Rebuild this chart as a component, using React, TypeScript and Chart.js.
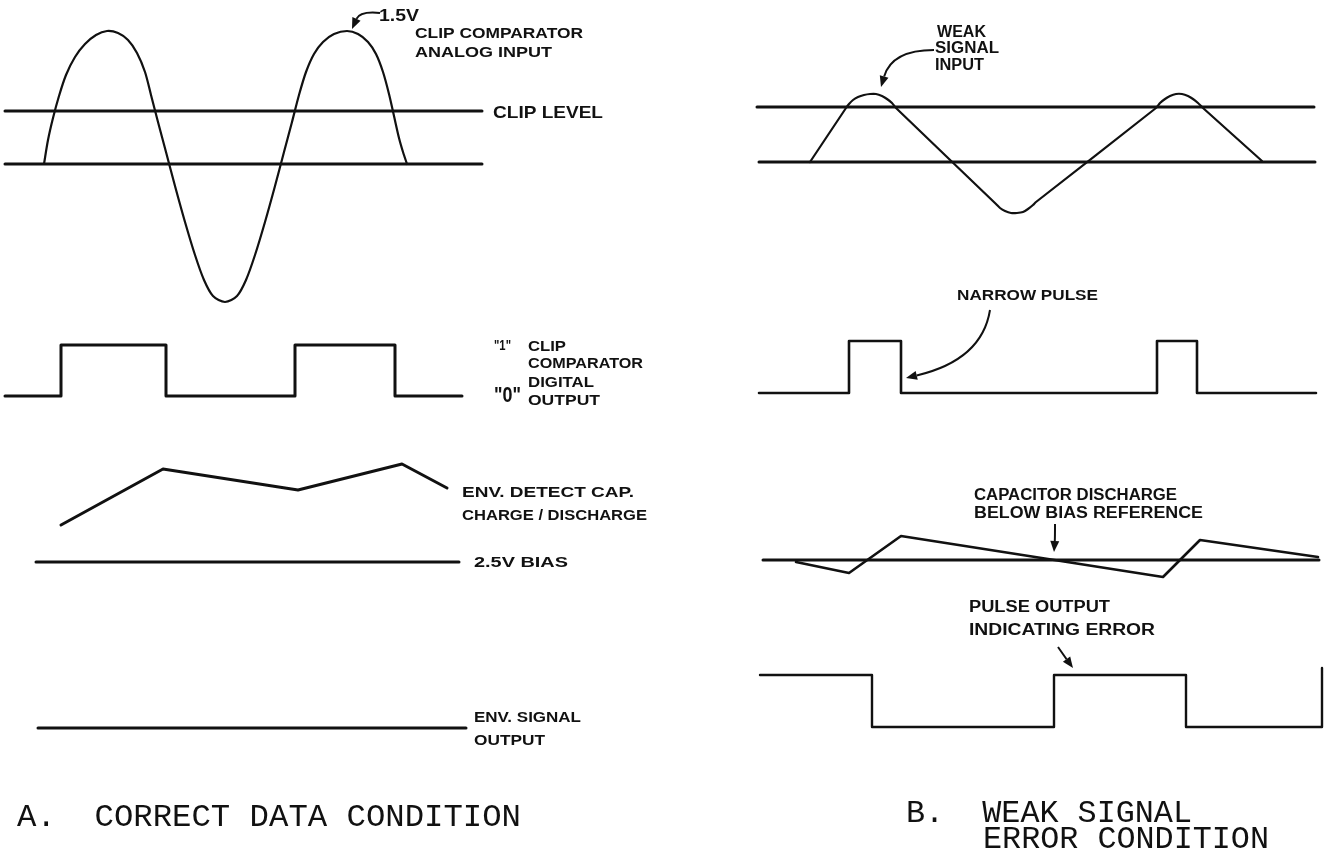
import React, { useEffect, useRef } from "react";
import { Chart, registerables } from "chart.js";

Chart.register(...registerables);

// ---------- Panel A: correct data condition ----------
const clipLevelA: [number, number][] = [[5, 111], [482, 111]];
const zeroLevelA: [number, number][] = [[5, 164], [482, 164]];
const analogInputA: [number, number][] = [
  [44, 164], [48, 140], [53, 118], [59, 96], [66, 75], [75, 57], [85, 44], [96, 35],
  [107, 31], [118, 33], [128, 40], [137, 53], [145, 72], [151, 95], [158, 122],
  [166, 152], [175, 186], [185, 222], [195, 255], [204, 280], [213, 296], [225, 302],
  [237, 296], [246, 280], [255, 255], [265, 222], [275, 186], [284, 152], [292, 122],
  [299, 95], [306, 72], [314, 54], [323, 42], [334, 34], [347, 31], [358, 34],
  [368, 42], [376, 54], [383, 72], [389, 94], [394, 116], [399, 138], [403, 152],
  [407, 164],
];
const digitalOutputA: [number, number][] = [
  [5, 396], [61, 396], [61, 345], [166, 345], [166, 396], [295, 396], [295, 345],
  [395, 345], [395, 396], [462, 396],
];
const envCapA: [number, number][] = [[61, 525], [163, 469], [298, 490], [402, 464], [447, 488]];
const biasA: [number, number][] = [[36, 562], [459, 562]];
const envSignalA: [number, number][] = [[38, 728], [466, 728]];

// ---------- Panel B: weak signal error condition ----------
const clipLevelB: [number, number][] = [[757, 107], [1314, 107]];
const zeroLevelB: [number, number][] = [[759, 162], [1315, 162]];
const weakInputB: [number, number][] = [
  [810, 162], [846, 108], [849, 104], [853, 100], [858, 97], [864, 95], [870, 94],
  [876, 94], [882, 96], [887, 99], [892, 103], [896, 108], [996, 204], [1000, 208],
  [1005, 211], [1011, 213], [1017, 213], [1023, 212], [1028, 209], [1033, 205],
  [1036, 202], [1156, 108], [1160, 103], [1165, 99], [1170, 96], [1176, 94],
  [1182, 94], [1188, 96], [1193, 99], [1198, 103], [1203, 108], [1262, 161],
];
const digitalOutputB: [number, number][] = [
  [759, 393], [849, 393], [849, 341], [901, 341], [901, 393], [1157, 393],
  [1157, 341], [1197, 341], [1197, 393], [1316, 393],
];
const biasB: [number, number][] = [[763, 560], [1319, 560]];
const capSawB: [number, number][] = [[796, 562], [849, 573], [901, 536], [1163, 577], [1200, 540], [1318, 557]];
const pulseOutB: [number, number][] = [
  [760, 675], [872, 675], [872, 727], [1054, 727], [1054, 675], [1186, 675],
  [1186, 727], [1322, 727], [1322, 668],
];

// ---------- text annotations (text, left, baseline, width, size, family) ----------
type Label = { t: string; x: number; y: number; w: number; s: number; f?: string; wt?: string };
const SANS = "'Liberation Sans', Arial, sans-serif";
const MONO = "'Liberation Mono', 'Courier New', monospace";
const labels: Label[] = [
  { t: "1.5V", x: 379, y: 21, w: 40, s: 16 },
  { t: "CLIP COMPARATOR", x: 415, y: 38, w: 168, s: 15 },
  { t: "ANALOG INPUT", x: 415, y: 57, w: 137, s: 15 },
  { t: "CLIP LEVEL", x: 493, y: 118, w: 110, s: 17 },
  { t: "\"1\"", x: 494, y: 350, w: 17, s: 15 },
  { t: "CLIP", x: 528, y: 351, w: 38, s: 15 },
  { t: "COMPARATOR", x: 528, y: 368, w: 115, s: 15 },
  { t: "\"0\"", x: 494, y: 402, w: 27, s: 22 },
  { t: "DIGITAL", x: 528, y: 387, w: 66, s: 15 },
  { t: "OUTPUT", x: 528, y: 405, w: 72, s: 15 },
  { t: "ENV. DETECT CAP.", x: 462, y: 497, w: 172, s: 15 },
  { t: "CHARGE / DISCHARGE", x: 462, y: 520, w: 185, s: 15 },
  { t: "2.5V BIAS", x: 474, y: 567, w: 94, s: 15 },
  { t: "ENV. SIGNAL", x: 474, y: 722, w: 107, s: 14 },
  { t: "OUTPUT", x: 474, y: 745, w: 71, s: 14 },
  { t: "A.  CORRECT DATA CONDITION", x: 17, y: 826, w: 504, s: 31, f: MONO, wt: "normal" },
  { t: "WEAK", x: 937, y: 37, w: 49, s: 16 },
  { t: "SIGNAL", x: 935, y: 53, w: 64, s: 16 },
  { t: "INPUT", x: 935, y: 70, w: 49, s: 16 },
  { t: "NARROW PULSE", x: 957, y: 300, w: 141, s: 14 },
  { t: "CAPACITOR DISCHARGE", x: 974, y: 500, w: 203, s: 16 },
  { t: "BELOW BIAS REFERENCE", x: 974, y: 518, w: 229, s: 16 },
  { t: "PULSE OUTPUT", x: 969, y: 612, w: 141, s: 16 },
  { t: "INDICATING ERROR", x: 969, y: 635, w: 186, s: 16 },
  { t: "B.  WEAK SIGNAL", x: 906, y: 822, w: 286, s: 31, f: MONO, wt: "normal" },
  { t: "ERROR CONDITION", x: 983, y: 848, w: 286, s: 31, f: MONO, wt: "normal" },
];

// arrows: start, control, end (quadratic), arrowhead at end
const arrows: [number, number, number, number, number, number][] = [
  [380, 13, 360, 11, 352, 29],
  [934, 50, 892, 50, 881, 87],
  [990, 310, 982, 360, 906, 378],
  [1055, 524, 1055, 538, 1054, 552],
  [1058, 647, 1065, 657, 1073, 668],
];

const toPts = (a: [number, number][]) => a.map(([x, y]) => ({ x, y }));

const diagramPlugin = {
  id: "diagramText",
  afterDatasetsDraw(chart: any) {
    const { ctx, scales } = chart;
    const X = (v: number) => scales.x.getPixelForValue(v);
    const Y = (v: number) => scales.y.getPixelForValue(v);
    ctx.save();
    ctx.fillStyle = "#111";
    ctx.strokeStyle = "#111";
    ctx.textBaseline = "alphabetic";
    ctx.textAlign = "left";
    for (const l of labels) {
      ctx.font = `${l.wt || "bold"} ${l.s}px ${l.f || SANS}`;
      const m = ctx.measureText(l.t).width;
      const px = X(l.x);
      const sx = (X(l.x + l.w) - px) / m;
      ctx.save();
      ctx.translate(px, Y(l.y));
      ctx.scale(sx, 1);
      ctx.fillText(l.t, 0, 0);
      ctx.restore();
    }
    ctx.lineWidth = 2;
    for (const [x0, y0, cx, cy, x1, y1] of arrows) {
      const ax = X(x1), ay = Y(y1);
      const bx = X(cx), by = Y(cy);
      const ang = Math.atan2(ay - by, ax - bx);
      const len = 11, half = 4.5;
      const baseX = ax - Math.cos(ang) * len, baseY = ay - Math.sin(ang) * len;
      ctx.beginPath();
      ctx.moveTo(X(x0), Y(y0));
      ctx.quadraticCurveTo(bx, by, baseX, baseY);
      ctx.stroke();
      ctx.beginPath();
      ctx.moveTo(ax, ay);
      ctx.lineTo(baseX + Math.sin(ang) * half, baseY - Math.cos(ang) * half);
      ctx.lineTo(baseX - Math.sin(ang) * half, baseY + Math.cos(ang) * half);
      ctx.closePath();
      ctx.fill();
    }
    ctx.restore();
  },
};

export default function App() {
  const ref = useRef<HTMLCanvasElement | null>(null);
  useEffect(() => {
    document.body.style.margin = "0";
    const line = (data: [number, number][], width: number, tension = 0) => ({
      data: toPts(data),
      borderColor: "#111",
      borderWidth: width,
      pointRadius: 0,
      fill: false,
      tension,
      borderJoinStyle: "round",
      borderCapStyle: "round",
      clip: false,
    });
    const chart = new Chart(ref.current as HTMLCanvasElement, {
      type: "line",
      data: {
        datasets: [
          line(clipLevelA, 3),
          line(zeroLevelA, 3),
          line(analogInputA, 2.2, 0.3),
          line(digitalOutputA, 3),
          line(envCapA, 3),
          line(biasA, 3),
          line(envSignalA, 3),
          line(clipLevelB, 3),
          line(zeroLevelB, 3),
          line(weakInputB, 2.2, 0.2),
          line(digitalOutputB, 2.6),
          line(biasB, 3),
          line(capSawB, 2.6),
          line(pulseOutB, 2.4),
        ] as any,
      },
      options: {
        animation: false,
        responsive: true,
        maintainAspectRatio: false,
        layout: { padding: 0 },
        plugins: { legend: { display: false }, tooltip: { enabled: false }, title: { display: false } },
        scales: {
          x: { type: "linear", min: 0, max: 1330, display: false },
          y: { type: "linear", min: 0, max: 852, reverse: true, display: false },
        },
        events: [],
      },
      plugins: [diagramPlugin],
    });
    return () => chart.destroy();
  }, []);
  return (
    <div style={{ position: "absolute", left: 0, top: 0, width: 1330, height: 852, background: "#fff" }}>
      <canvas ref={ref} />
    </div>
  );
}
